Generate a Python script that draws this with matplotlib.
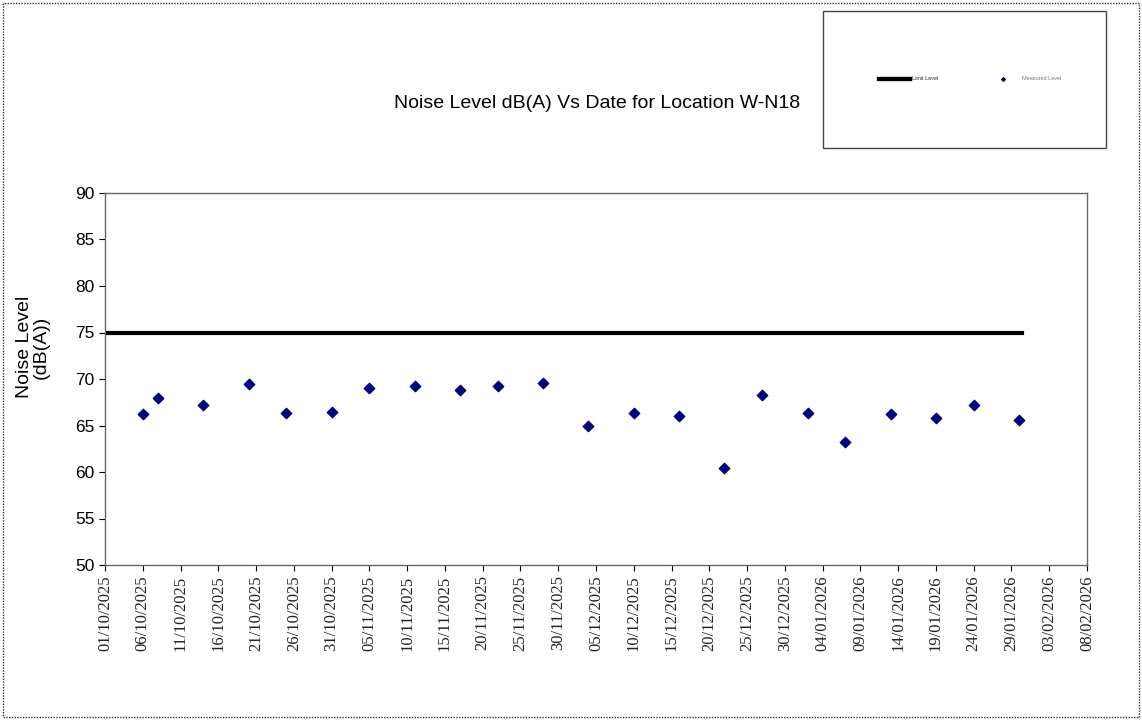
import numpy as np
import pandas as pd
import matplotlib
matplotlib.use("Agg")
import matplotlib.pyplot as plt
import matplotlib.dates as mdates
from matplotlib.patches import Rectangle

dates = ["2025-10-06", "2025-10-08", "2025-10-14", "2025-10-20", "2025-10-25",
         "2025-10-31", "2025-11-05", "2025-11-11", "2025-11-17", "2025-11-22",
         "2025-11-28", "2025-12-04", "2025-12-10", "2025-12-16", "2025-12-22",
         "2025-12-27", "2026-01-02", "2026-01-07", "2026-01-13", "2026-01-19",
         "2026-01-24", "2026-01-30"]
levels = [66.2, 68.0, 67.2, 69.5, 66.3, 66.5, 69.0, 69.2, 68.8, 69.3,
          69.6, 65.0, 66.3, 66.0, 60.4, 68.3, 66.3, 63.2, 66.2, 65.8,
          67.2, 65.6]
limit_dates = ["2025-10-01 00:00", "2026-01-30 08:00"]
limit_values = [75, 75]

x_start = pd.Timestamp("2025-10-01")
x_end = pd.Timestamp("2026-02-08")

d = pd.to_datetime(dates)
ld = pd.to_datetime(limit_dates)

fig = plt.figure(figsize=(11.42, 7.21), dpi=100)
plt.rcParams['font.family'] = ['Liberation Sans', 'DejaVu Sans']

# outer dotted border
fig.patches.append(Rectangle((0.003, 0.006), 0.994, 0.99, transform=fig.transFigure,
                             fill=False, edgecolor='#333333', linestyle=(0, (1, 1)),
                             linewidth=1))

ax = fig.add_axes([105 / 1142, 1 - 565 / 721, 982 / 1142, 372 / 721])
limit_line, = ax.plot(ld, limit_values, color='black', linewidth=3, label='Limit Level')
meas = ax.scatter(d, levels, marker='D', s=28, color='#000080', label='Measured Level',
                  zorder=3)

ax.set_xlim(x_start, x_end)
ax.set_ylim(50, 90)
ax.set_yticks(range(50, 91, 5))
ticks = pd.date_range(x_start, x_end, freq='5D')
ax.set_xticks(ticks)
ax.xaxis.set_major_formatter(mdates.DateFormatter('%d/%m/%Y'))
for lab in ax.get_xticklabels():
    lab.set_rotation(90)
    lab.set_fontfamily('Liberation Serif')
    lab.set_fontsize(12)
    lab.set_color('#222222')
ax.tick_params(axis='y', labelsize=12.5, length=4, direction='out')
ax.tick_params(axis='x', length=4, direction='out')
for s in ax.spines.values():
    s.set_color('#666666')
    s.set_linewidth(1)

ax.set_ylabel('Noise Level\n(dB(A))', fontsize=14, linespacing=1.0)
ax.yaxis.set_label_coords(-55 / 982, (565 - 347) / 372)

fig.text(597 / 1142, 1 - 103 / 721, 'Noise Level dB(A) Vs Date for Location W-N18',
         ha='center', va='center', fontsize=14)

# legend box (two entries placed separately)
leg1 = fig.legend(handles=[limit_line], loc='center left',
                  bbox_to_anchor=(879 / 1142, 1 - 79 / 721), fontsize=4,
                  frameon=False, handlelength=5.6, handletextpad=0.4,
                  labelcolor='#777777', borderpad=0, borderaxespad=0)
fig.add_artist(leg1)
leg2 = fig.legend(handles=[meas], loc='center left',
                  bbox_to_anchor=(992 / 1142, 1 - 79 / 721), fontsize=4,
                  frameon=False, handlelength=4, handletextpad=1.4,
                  labelcolor='#777777', markerscale=0.35, borderpad=0,
                  borderaxespad=0)
fig.patches.append(Rectangle((823 / 1142, 1 - 148 / 721), 283 / 1142, 137 / 721,
                             transform=fig.transFigure, fill=False,
                             edgecolor='#444444', linewidth=1))

plt.savefig('out.png', dpi=100)
